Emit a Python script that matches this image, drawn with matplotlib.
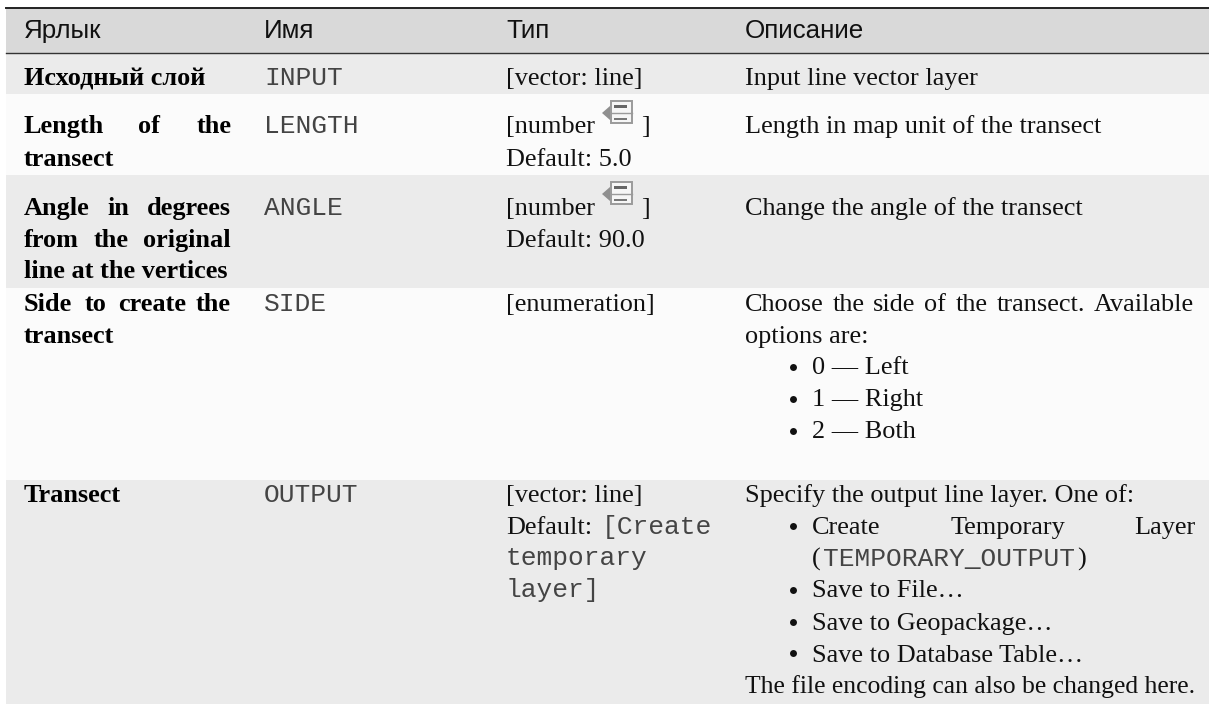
import matplotlib
matplotlib.use('Agg')
import matplotlib.pyplot as plt
from matplotlib.patches import Rectangle, Polygon

SERIF = 'Liberation Serif'
SANS = 'Liberation Sans'
MONO = 'Liberation Mono'

headers = ['Ярлык', 'Имя', 'Тип', 'Описание']
header_x = [24, 264, 506, 745]

# границы строк
row_edges = [54, 94, 175, 288, 480, 704]
row_colors = ['#ebebeb', '#fbfbfb', '#ebebeb', '#fbfbfb', '#ebebeb']

# текст, x, baseline
labels = [
    ('Исходный слой', 24, 85),
    ('Length', 24, 133), ('of', 138, 133), ('the', 197, 133),
    ('transect', 24, 166),
    ('Angle', 24, 215), ('in', 107, 215), ('degrees', 147, 215),
    ('from', 24, 247), ('the', 94, 247), ('original', 143, 247),
    ('line at the vertices', 24, 278),
    ('Side', 24, 311), ('to', 85, 311), ('create', 118, 311), ('the', 196, 311),
    ('transect', 24, 343),
    ('Transect', 24, 502),
]
names = [('INPUT', 264, 85), ('LENGTH', 264, 133), ('ANGLE', 264, 215),
         ('SIDE', 264, 311), ('OUTPUT', 264, 502)]
types_serif = [
    ('[vector: line]', 506, 85),
    ('[number', 506, 133), (']', 641, 133), ('Default: 5.0', 506, 166),
    ('[number', 506, 215), (']', 641, 215), ('Default: 90.0', 506, 247),
    ('[enumeration]', 506, 311),
    ('[vector: line]', 506, 502), ('Default:', 506, 534),
]
types_mono = [('[Create', 602, 534), ('temporary', 506, 565), ('layer]', 506, 597)]
descriptions = [
    ('Input line vector layer', 745, 85),
    ('Length in map unit of the transect', 745, 133),
    ('Change the angle of the transect', 745, 215),
    ('Choose', 745, 311), ('the', 833, 311), ('side', 873, 311), ('of', 924, 311),
    ('the', 956, 311), ('transect.', 997, 311), ('Available', 1094, 311),
    ('options are:', 745, 343),
    ('Specify the output line layer. One of:', 745, 502),
]
last_line = 'The file encoding can also be changed here.'
bullets = [
    ('0 — Left', 812, 374), ('1 — Right', 812, 406), ('2 — Both', 812, 438),
    ('Create', 812, 534), ('Temporary', 951, 534), ('Layer', 1134, 534),
    ('(', 812, 566), (')', 1077, 566),
    ('Save to File…', 812, 597), ('Save to Geopackage…', 812, 630),
    ('Save to Database Table…', 812, 662),
]
bullet_x = [793, 793, 793, 793, 793, 793, 793]
bullet_y = [367, 399, 431, 526, 590, 622, 653]
icon_x = [602, 602]
icon_y = [100, 181]

fig = plt.figure(figsize=(12.09, 7.04), dpi=100)
ax = fig.add_axes([0, 0, 1, 1])
ax.set_xlim(0, 1209)
ax.set_ylim(704, 0)
ax.axis('off')

ax.add_patch(Rectangle((6, 8), 1203, 45, color='#d9d9d9', lw=0))
for i, c in enumerate(row_colors):
    ax.add_patch(Rectangle((6, row_edges[i]), 1203, row_edges[i + 1] - row_edges[i], color=c, lw=0))
ax.plot([6, 1209], [7.5, 7.5], color='#222222', lw=1.4)
ax.plot([6, 1209], [53, 53], color='#333333', lw=1.0)

fs = 18.9
for t, x in zip(headers, header_x):
    ax.text(x, 38, t, family=SANS, fontsize=18.7, va='baseline', color='#111111')
for t, x, y in labels:
    ax.text(x, y, t, family=SERIF, fontsize=fs, fontweight='bold', va='baseline', color='black')
for t, x, y in names + types_mono:
    ax.text(x, y, t, family=MONO, fontsize=fs, va='baseline', color='#444444')
for t, x, y in types_serif + descriptions + bullets:
    ax.text(x, y, t, family=SERIF, fontsize=fs, va='baseline', color='#111111')
ax.text(745, 693, last_line, family=SERIF, fontsize=18.45, va='baseline', color='#111111')
ax.text(823, 566, 'TEMPORARY_OUTPUT', family=MONO, fontsize=fs, va='baseline', color='#444444')
ax.plot(bullet_x, bullet_y, 'o', ms=5, color='#111111', mew=0)

# значок параметра
for x, y in zip(icon_x, icon_y):
    ax.add_patch(Polygon([(x + 8, y + 6), (x + 8, y + 20), (x, y + 13)], color='#8f8f8f', lw=0))
    ax.add_patch(Rectangle((x + 9, y + 1), 21, 22, fc='#f6f6f6', ec='#9a9a9a', lw=1.4))
    ax.plot([x + 9, x + 30], [y + 13, y + 13], color='#9a9a9a', lw=1.0)
    ax.add_patch(Rectangle((x + 12, y + 5), 13, 3, color='#666666', lw=0))
    ax.add_patch(Rectangle((x + 12, y + 18), 13, 1.5, color='#777777', lw=0))

fig.savefig('out.png', dpi=100)
